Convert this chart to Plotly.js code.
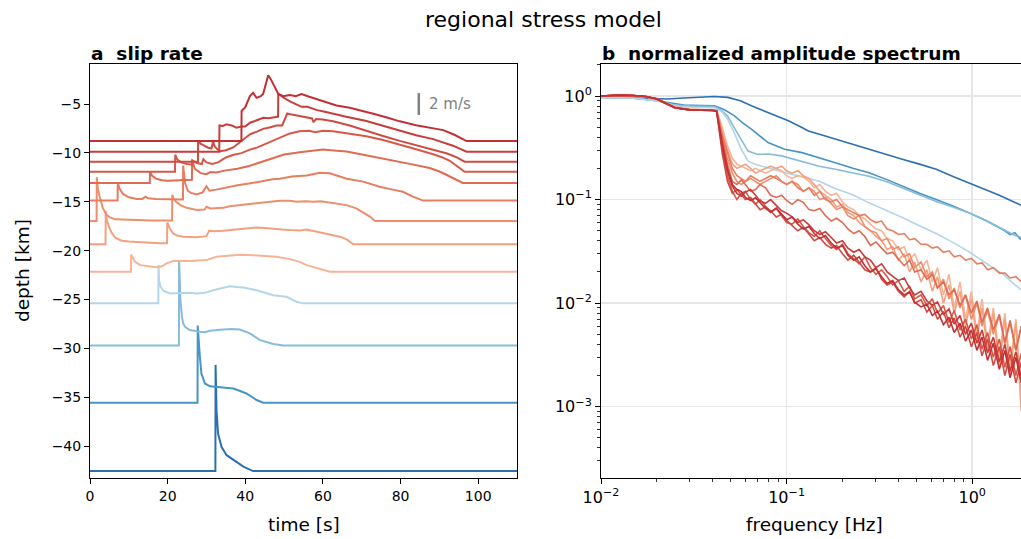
<!DOCTYPE html>
<html><head><meta charset="utf-8">
<script src="https://cdn.plot.ly/plotly-3.0.1.min.js"></script>
<style>html,body{margin:0;padding:0;background:#fff}#chart{width:1021px;height:539px}</style>
</head><body><div id="chart"></div>
<script>
// ---------- data: slip rate (time [s], slip rate [m/s]) per station depth ----------
const depths = [-42.56, -35.57, -29.70, -25.40, -22.16, -19.36, -16.97, -14.88, -13.08, -11.93, -10.90, -9.88, -8.79];

const slipT0 = [0, 32.3, 32.35, 32.45, 32.6, 33.0, 33.9, 35.2, 36.9, 38.3, 39.5, 41.2, 42, 110];
const slipV0 = [0, 0, 9.7, 8.0, 5.5, 3.4, 2.2, 1.45, 1.0, 0.7, 0.4, 0.1, 0, 0];
const slipT1 = [0, 27.7, 27.75, 27.95, 28.3, 28.7, 29.6, 30.9, 32.6, 34.5, 36.9, 38.5, 40.3, 42.9, 44.6, 110];
const slipV1 = [0, 0, 7.06, 5.7, 4.2, 2.67, 1.76, 1.5, 1.45, 1.4, 1.3, 1.1, 0.85, 0.25, 0, 0];
const slipT2 = [0, 22.9, 22.95, 23.3, 23.7, 24.0, 24.5, 25.7, 28.3, 29.5, 30.9, 32.5, 34.3, 36.5, 38.6, 41.2, 43.8, 47.2, 49.8, 110];
const slipV2 = [0, 0, 7.75, 4.1, 2.6, 2.0, 1.7, 1.4, 1.24, 1.2, 1.33, 1.4, 1.45, 1.5, 1.45, 1.1, 0.48, 0.12, 0, 0];
const slipT3 = [0, 17.6, 17.65, 17.8, 18.2, 18.9, 20.6, 23.2, 25.7, 27.5, 29.6, 31.7, 34.3, 36.0, 37.8, 39.5, 42.9, 45, 47.2, 50.6, 53.2, 54.9, 110];
const slipV3 = [0, 0, 3.5, 2.1, 1.5, 1.15, 0.9, 0.95, 0.96, 0.9, 0.96, 1.2, 1.45, 1.57, 1.5, 1.45, 1.2, 0.95, 0.75, 0.6, 0.15, 0, 0];
const slipT4 = [0, 10.55, 10.6, 11.6, 12.9, 15.4, 17.2, 18.5, 19.7, 21.4, 23.2, 25.7, 28, 30, 32.6, 36, 38.5, 41.2, 44.6, 48, 51.5, 54, 55.8, 57.5, 60.1, 61.8, 110];
const slipV4 = [0, 0, 1.58, 0.9, 0.6, 0.45, 0.4, 0.5, 0.76, 0.97, 1.0, 0.97, 1.0, 1.06, 1.36, 1.43, 1.55, 1.52, 1.43, 1.36, 1.15, 0.9, 0.6, 0.45, 0.2, 0, 0];
const slipT5 = [0, 4.0, 4.05, 4.3, 4.7, 5.5, 6.5, 8, 10, 12, 15, 18, 19.85, 19.9, 20.5, 21.4, 22.5, 24.0, 27.5, 30.0, 30.7, 32, 34.3, 38.6, 42.9, 45, 47.2, 49.5, 51.5, 54, 55.8, 58, 60.1, 62.5, 64.4, 66.1, 67.8, 110];
const slipV5 = [0, 0, 3.03, 2.3, 1.8, 1.1, 0.6, 0.35, 0.25, 0.2, 0.15, 0.1, 0.1, 2.0, 1.5, 1.0, 0.8, 0.7, 0.65, 0.75, 1.25, 1.2, 1.25, 1.4, 1.55, 1.5, 1.4, 1.35, 1.3, 1.27, 1.36, 1.2, 1.06, 0.85, 0.7, 0.45, 0, 0];
const slipT6 = [0, 1.7, 1.75, 2.0, 2.5, 3.3, 4.2, 5, 6.5, 9, 12, 16, 21.15, 21.2, 21.6, 22.3, 23.5, 24.9, 27.5, 29.5, 30, 31, 34.3, 36, 38.6, 42.9, 46, 48.9, 51.5, 53.2, 55.5, 57.5, 59.5, 61.8, 64, 66.1, 68.6, 70.5, 72.1, 73.4, 110];
const slipV6 = [0, 0, 4.0, 3.0, 2.2, 1.2, 0.6, 0.35, 0.15, 0.1, 0.08, 0.05, 0.05, 2.4, 2.0, 1.7, 1.4, 1.2, 1.0, 1.05, 1.3, 1.15, 1.2, 1.35, 1.45, 1.6, 1.75, 1.85, 1.85, 1.75, 1.8, 1.75, 1.8, 1.7, 1.55, 1.45, 1.15, 0.75, 0.4, 0, 0];
const slipT7 = [0, 7.1, 7.15, 7.6, 8.5, 10, 12, 13.5, 14.3, 15, 17, 20, 23.95, 24.0, 24.5, 25.2, 26, 27.5, 29, 30, 30.8, 32.5, 35, 38, 41, 44, 47, 48.9, 52, 55.8, 57.5, 59.2, 61.8, 63, 66.1, 70.4, 74.6, 78, 80.6, 83.2, 85.8, 110];
const slipV7 = [0, 0, 1.65, 1.1, 0.6, 0.3, 0.15, 0.15, 0.35, 0.2, 0.15, 0.1, 0.1, 3.2, 1.6, 0.9, 0.7, 0.55, 0.75, 1.3, 0.9, 1.0, 1.2, 1.4, 1.55, 1.75, 1.95, 2.0, 2.2, 2.3, 2.45, 2.55, 2.5, 2.35, 2.0, 1.73, 1.27, 1.0, 0.8, 0.36, 0, 0];
const slipT8 = [0, 15.4, 15.45, 16, 17, 18.5, 20, 22, 24, 26.25, 26.3, 27, 28.5, 30, 31, 32.5, 35, 38, 41, 44, 47, 50, 54, 57, 60, 62, 66.1, 70.4, 74.5, 78.9, 83, 87.5, 90, 91.8, 94, 96, 110];
const slipV8 = [0, 0, 1.05, 0.65, 0.4, 0.25, 0.2, 0.25, 0.3, 0.3, 2.1, 1.3, 0.9, 0.8, 1.0, 0.95, 1.15, 1.3, 1.55, 1.9, 2.2, 2.6, 2.8, 2.95, 3.05, 3.0, 2.87, 2.57, 2.3, 1.96, 1.7, 1.36, 1.05, 0.75, 0.35, 0, 0];
const slipT9 = [0, 21.9, 21.95, 22.5, 23.5, 25, 26.3, 26.35, 27.5, 28.8, 29.2, 30, 31.5, 33, 35, 37, 39, 41, 43, 45, 47, 49, 51.5, 54, 56.5, 58, 60, 62.6, 66, 71.2, 75.5, 79.8, 84, 88.4, 90.5, 92.7, 94.5, 96.5, 110];
const slipV9 = [0, 0, 1.55, 1.1, 0.85, 0.7, 0.65, 1.05, 0.8, 0.7, 1.15, 0.85, 0.7, 0.85, 1.3, 1.55, 1.7, 2.0, 2.2, 2.5, 2.8, 3.1, 3.5, 3.7, 3.75, 3.6, 3.75, 3.7, 3.5, 3.25, 2.9, 2.5, 2.05, 1.6, 1.35, 1.0, 0.5, 0, 0];
const slipT10 = [0, 27.8, 27.85, 28.5, 29.2, 30.3, 31.3, 31.7, 32.1, 32.6, 33.5, 35, 36.9, 39, 41.2, 43, 44.6, 46.5, 48, 49.5, 50.8, 52, 54.9, 57.2, 57.6, 58.2, 60, 62.6, 66.9, 71.2, 75.5, 79.8, 84, 88.4, 92, 94.5, 96.5, 110];
const slipV10 = [0, 0, 1.9, 1.65, 1.5, 1.3, 1.2, 1.85, 1.4, 1.2, 0.95, 1.05, 1.3, 1.9, 2.5, 2.75, 3.0, 3.15, 3.3, 3.3, 4.4, 4.3, 4.1, 3.95, 3.6, 3.9, 3.85, 3.7, 3.3, 2.8, 2.35, 1.9, 1.5, 1.15, 0.75, 0.4, 0, 0];
const slipT11 = [0, 33.3, 33.35, 34.2, 35.2, 36.5, 37.7, 39.0, 40.0, 41.2, 42.5, 43.5, 44.6, 46.0, 47.6, 48.45, 48.5, 49.8, 51.5, 53.2, 54.5, 56, 58.5, 60.5, 62.6, 66, 71.2, 75.5, 79.8, 84, 88.4, 91, 93.5, 97, 110];
const slipV11 = [0, 0, 2.4, 2.35, 2.5, 2.4, 2.2, 2.3, 2.3, 2.65, 2.8, 2.95, 3.1, 3.05, 3.15, 3.2, 5.3, 4.95, 4.6, 4.3, 4.1, 4.1, 3.8, 3.65, 3.5, 3.2, 2.8, 2.35, 1.9, 1.5, 1.15, 0.85, 0.55, 0, 0];
const slipT12 = [0, 39.0, 39.05, 40.0, 41.2, 42.0, 42.9, 44.0, 44.6, 45.3, 45.9, 46.5, 47.2, 48.5, 49.8, 51.5, 53.0, 54.5, 56.5, 58.3, 60.1, 63.5, 66.9, 70, 73, 76.5, 79.8, 84, 88, 91, 94, 97.0, 110];
const slipV12 = [0, 0, 2.75, 3.1, 4.1, 4.4, 3.95, 4.1, 4.3, 5.2, 6.0, 5.7, 5.2, 4.3, 4.1, 4.2, 4.1, 4.3, 4.05, 3.85, 3.7, 3.25, 3.05, 2.8, 2.5, 2.15, 1.8, 1.45, 1.2, 1.0, 0.55, 0.0, 0];

// ---------- data: normalized amplitude spectra ----------
const specF0 = [0.01, 0.015, 0.02, 0.0228, 0.028, 0.035, 0.0408, 0.0482, 0.0564, 0.0646, 0.075, 0.0862, 0.1022, 0.121, 0.131, 0.155, 0.183, 0.23, 0.278, 0.35, 0.42, 0.52, 0.64, 0.8, 1.06, 1.4, 1.89, 2.0];
const specA0 = [0.98, 0.96, 0.94, 0.935, 0.956, 0.975, 0.99, 0.97, 0.9, 0.805, 0.72, 0.644, 0.576, 0.497, 0.46, 0.42, 0.383, 0.34, 0.306, 0.27, 0.245, 0.22, 0.196, 0.165, 0.135, 0.11, 0.086, 0.082];
const specF1 = [0.01, 0.015, 0.02, 0.025, 0.028, 0.035, 0.0408, 0.046, 0.0524, 0.058, 0.0646, 0.0794, 0.0976, 0.121, 0.15, 0.183, 0.23, 0.278, 0.35, 0.42, 0.52, 0.64, 0.8, 0.97, 1.2, 1.5, 1.6, 1.7, 1.8, 1.92, 2.0];
const specA1 = [0.97, 0.95, 0.9, 0.84, 0.818, 0.81, 0.805, 0.74, 0.644, 0.55, 0.478, 0.355, 0.306, 0.284, 0.255, 0.227, 0.2, 0.182, 0.155, 0.135, 0.115, 0.1, 0.086, 0.074, 0.062, 0.05, 0.046, 0.048, 0.042, 0.04, 0.039];
const specF2 = [0.01, 0.015, 0.02, 0.025, 0.03, 0.035, 0.0408, 0.045, 0.048, 0.052, 0.057, 0.062, 0.07, 0.08, 0.094, 0.11, 0.121, 0.15, 0.183, 0.23, 0.278, 0.35, 0.42, 0.52, 0.64, 0.8, 0.97, 1.2, 1.5, 1.7, 1.92, 2.0];
const specA2 = [0.97, 0.95, 0.9, 0.82, 0.8, 0.8, 0.79, 0.72, 0.644, 0.5, 0.382, 0.294, 0.273, 0.275, 0.264, 0.245, 0.235, 0.21, 0.196, 0.18, 0.168, 0.148, 0.13, 0.112, 0.096, 0.084, 0.074, 0.062, 0.05, 0.045, 0.042, 0.041];
const specF3 = [0.01, 0.015, 0.02, 0.025, 0.03, 0.035, 0.041, 0.045, 0.048, 0.052, 0.057, 0.062, 0.07, 0.0794, 0.098, 0.121, 0.15, 0.183, 0.23, 0.278, 0.35, 0.42, 0.52, 0.64, 0.8, 0.97, 1.2, 1.47, 1.7, 1.92, 2.0];
const specA3 = [0.97, 0.95, 0.9, 0.8, 0.78, 0.78, 0.77, 0.7, 0.6, 0.45, 0.306, 0.235, 0.215, 0.203, 0.182, 0.166, 0.15, 0.128, 0.11, 0.093, 0.078, 0.067, 0.056, 0.047, 0.038, 0.031, 0.024, 0.019, 0.015, 0.0125, 0.012];

const freqRed = [0.01, 0.0125, 0.015, 0.0175, 0.02, 0.0225, 0.025, 0.03, 0.035, 0.04, 0.042, 0.045, 0.048, 0.051, 0.054, 0.057, 0.06, 0.064, 0.068, 0.072, 0.077, 0.082, 0.088, 0.094, 0.1, 0.107, 0.115, 0.123, 0.132, 0.141, 0.151, 0.162, 0.174, 0.186, 0.2, 0.214, 0.23, 0.246, 0.264, 0.283, 0.303, 0.325, 0.348, 0.373, 0.4, 0.43, 0.46, 0.49, 0.53, 0.57, 0.61, 0.65, 0.7, 0.75, 0.8, 0.86, 0.92, 0.99, 1.06, 1.13, 1.21, 1.3, 1.4, 1.5, 1.6, 1.72, 1.84, 1.97];
const specA4 = [1.0, 1.01, 1.0, 0.985, 0.94, 0.86, 0.79, 0.75, 0.745, 0.74, 0.73, 0.5, 0.33, 0.25, 0.22, 0.21, 0.2, 0.19, 0.2, 0.19, 0.18, 0.19, 0.2, 0.19, 0.17, 0.16, 0.17, 0.165, 0.15, 0.13, 0.14, 0.12, 0.11, 0.115, 0.095, 0.085, 0.08, 0.07, 0.065, 0.058, 0.052, 0.05, 0.042, 0.04, 0.033, 0.035, 0.026, 0.03, 0.021, 0.026, 0.016, 0.022, 0.012, 0.019, 0.009, 0.016, 0.007, 0.013, 0.005, 0.011, 0.004, 0.009, 0.003, 0.008, 0.0025, 0.007, 0.0012, 0.006];
const specA5 = [1.0, 1.01, 1.0, 0.98, 0.93, 0.85, 0.78, 0.745, 0.74, 0.735, 0.725, 0.45, 0.3, 0.22, 0.2, 0.21, 0.22, 0.2, 0.18, 0.19, 0.2, 0.21, 0.2, 0.21, 0.19, 0.18, 0.19, 0.17, 0.16, 0.14, 0.12, 0.11, 0.1, 0.085, 0.09, 0.075, 0.07, 0.06, 0.055, 0.05, 0.044, 0.04, 0.033, 0.035, 0.026, 0.03, 0.02, 0.025, 0.016, 0.021, 0.013, 0.018, 0.01, 0.015, 0.008, 0.013, 0.006, 0.011, 0.0045, 0.009, 0.0035, 0.008, 0.0025, 0.007, 0.002, 0.0065, 0.0009, 0.005];
const specA6 = [1.0, 1.015, 1.005, 0.98, 0.93, 0.84, 0.77, 0.74, 0.74, 0.735, 0.72, 0.4, 0.25, 0.18, 0.15, 0.14, 0.15, 0.16, 0.15, 0.14, 0.15, 0.16, 0.17, 0.15, 0.14, 0.15, 0.14, 0.12, 0.13, 0.12, 0.1, 0.105, 0.09, 0.08, 0.085, 0.07, 0.065, 0.07, 0.055, 0.05, 0.048, 0.04, 0.042, 0.033, 0.035, 0.028, 0.03, 0.022, 0.025, 0.018, 0.02, 0.014, 0.017, 0.011, 0.014, 0.009, 0.012, 0.007, 0.01, 0.006, 0.0085, 0.005, 0.0075, 0.004, 0.0065, 0.0035, 0.006, 0.003];
const specA7 = [1.0, 1.01, 1.0, 0.98, 0.93, 0.84, 0.77, 0.74, 0.735, 0.73, 0.72, 0.42, 0.28, 0.2, 0.17, 0.16, 0.15, 0.17, 0.16, 0.15, 0.16, 0.17, 0.16, 0.15, 0.14, 0.15, 0.13, 0.12, 0.13, 0.11, 0.12, 0.1, 0.095, 0.1, 0.085, 0.08, 0.075, 0.07, 0.072, 0.064, 0.06, 0.062, 0.052, 0.05, 0.046, 0.047, 0.041, 0.042, 0.037, 0.037, 0.034, 0.035, 0.031, 0.032, 0.028, 0.029, 0.026, 0.027, 0.024, 0.0245, 0.021, 0.022, 0.0195, 0.0195, 0.0175, 0.018, 0.016, 0.016];
const specA8 = [1.0, 1.02, 1.01, 0.985, 0.93, 0.84, 0.77, 0.735, 0.735, 0.73, 0.715, 0.38, 0.22, 0.15, 0.14, 0.155, 0.14, 0.12, 0.125, 0.14, 0.13, 0.11, 0.105, 0.11, 0.098, 0.09, 0.1, 0.094, 0.08, 0.078, 0.082, 0.07, 0.062, 0.066, 0.06, 0.052, 0.047, 0.05, 0.044, 0.036, 0.039, 0.034, 0.03, 0.031, 0.027, 0.023, 0.026, 0.02, 0.021, 0.017, 0.019, 0.014, 0.016, 0.012, 0.0135, 0.0095, 0.012, 0.008, 0.0105, 0.0065, 0.009, 0.0055, 0.0078, 0.0042, 0.0068, 0.0035, 0.006, 0.003];
const specA9 = [1.0, 1.02, 1.01, 0.99, 0.94, 0.85, 0.77, 0.735, 0.73, 0.73, 0.71, 0.33, 0.17, 0.12, 0.1, 0.115, 0.12, 0.1, 0.09, 0.1, 0.085, 0.075, 0.082, 0.07, 0.06, 0.058, 0.065, 0.055, 0.048, 0.044, 0.05, 0.042, 0.036, 0.033, 0.037, 0.03, 0.027, 0.024, 0.028, 0.022, 0.019, 0.021, 0.018, 0.015, 0.0165, 0.013, 0.0145, 0.011, 0.012, 0.0095, 0.011, 0.008, 0.0095, 0.0065, 0.0085, 0.0055, 0.007, 0.0045, 0.0062, 0.0036, 0.0052, 0.003, 0.0045, 0.0024, 0.0038, 0.002, 0.0033, 0.0016];
const specA10 = [1.0, 1.02, 1.01, 0.99, 0.94, 0.85, 0.775, 0.735, 0.73, 0.725, 0.71, 0.28, 0.15, 0.115, 0.125, 0.11, 0.1, 0.105, 0.092, 0.08, 0.085, 0.078, 0.068, 0.072, 0.063, 0.056, 0.05, 0.054, 0.046, 0.04, 0.043, 0.037, 0.034, 0.036, 0.03, 0.026, 0.029, 0.025, 0.021, 0.02, 0.022, 0.017, 0.015, 0.016, 0.013, 0.0115, 0.013, 0.01, 0.0108, 0.0082, 0.0095, 0.007, 0.0083, 0.0058, 0.0072, 0.0047, 0.006, 0.0038, 0.0052, 0.0031, 0.0045, 0.0025, 0.0038, 0.002, 0.0032, 0.0017, 0.0027, 0.0014];
const specA11 = [1.0, 1.02, 1.01, 0.99, 0.935, 0.845, 0.77, 0.735, 0.73, 0.725, 0.71, 0.31, 0.19, 0.135, 0.115, 0.108, 0.118, 0.125, 0.11, 0.097, 0.092, 0.1, 0.088, 0.078, 0.074, 0.068, 0.06, 0.064, 0.057, 0.05, 0.046, 0.049, 0.043, 0.038, 0.04, 0.034, 0.031, 0.033, 0.028, 0.026, 0.022, 0.024, 0.02, 0.018, 0.0165, 0.0175, 0.014, 0.012, 0.013, 0.0105, 0.0095, 0.0103, 0.0078, 0.0088, 0.0063, 0.0076, 0.005, 0.0064, 0.0041, 0.0055, 0.0033, 0.0047, 0.0027, 0.004, 0.0022, 0.0034, 0.0019, 0.0028];
const specA12 = [1.0, 1.02, 1.01, 0.99, 0.935, 0.845, 0.77, 0.735, 0.73, 0.725, 0.71, 0.35, 0.2, 0.14, 0.125, 0.12, 0.105, 0.098, 0.104, 0.093, 0.082, 0.076, 0.083, 0.072, 0.064, 0.068, 0.058, 0.052, 0.055, 0.047, 0.042, 0.045, 0.038, 0.034, 0.036, 0.029, 0.026, 0.028, 0.023, 0.02, 0.0215, 0.018, 0.0155, 0.0165, 0.0135, 0.012, 0.0128, 0.0102, 0.0092, 0.0098, 0.0076, 0.0084, 0.0062, 0.0073, 0.0052, 0.0064, 0.0043, 0.0055, 0.0035, 0.0047, 0.0028, 0.0041, 0.0023, 0.0035, 0.0019, 0.003, 0.0017, 0.0024];

const xTickVals = [0.01, 0.1, 1];
const xTickText = ['10<sup>−2</sup>', '10<sup>−1</sup>', '10<sup>0</sup>'];
const yTickVals = [0.001, 0.01, 0.1, 1];
const yTickText = ['10<sup>−3</sup>', '10<sup>−2</sup>', '10<sup>−1</sup>', '10<sup>0</sup>'];

// ---------- style ----------
const colors = ['#2c6fb2', '#4794c6', '#86bbda', '#b4d6e9', '#f7b395', '#f4a07f', '#ee8e6d', '#e87d60', '#e06a52', '#d85848', '#cf4a40', '#c83c3a', '#c23034'];
const K = 1.12; // km of depth offset per m/s of slip rate

const slipT = [slipT0, slipT1, slipT2, slipT3, slipT4, slipT5, slipT6, slipT7, slipT8, slipT9, slipT10, slipT11, slipT12];
const slipV = [slipV0, slipV1, slipV2, slipV3, slipV4, slipV5, slipV6, slipV7, slipV8, slipV9, slipV10, slipV11, slipV12];
const specF = [specF0, specF1, specF2, specF3, freqRed, freqRed, freqRed, freqRed, freqRed, freqRed, freqRed, freqRed, freqRed];
const specA = [specA0, specA1, specA2, specA3, specA4, specA5, specA6, specA7, specA8, specA9, specA10, specA11, specA12];

const traces = [];
for (let i = 0; i < depths.length; i++) {
  traces.push({
    type: 'scatter', mode: 'lines', xaxis: 'x', yaxis: 'y', showlegend: false, hoverinfo: 'skip',
    x: slipT[i], y: slipV[i].map(v => depths[i] + K * v),
    line: {color: colors[i], width: 2}
  });
}
for (let i = 0; i < depths.length; i++) {
  traces.push({
    type: 'scatter', mode: 'lines', xaxis: 'x2', yaxis: 'y2', showlegend: false, hoverinfo: 'skip',
    x: specF[i], y: specA[i],
    line: {color: colors[i], width: 1.6}
  });
}

const W = 1021, H = 539;
const px = v => v / W, py = v => 1 - v / H;
const FONT = 'DejaVu Sans';
const tickFont = {family: FONT, size: 14, color: '#000'};
const logTickFont = {family: FONT, size: 16, color: '#000'};

function minorVals() {
  const out = [];
  for (let e = -4; e <= 1; e++) for (let m = 2; m <= 9; m++) out.push(m * Math.pow(10, e));
  return out;
}

const layout = {
  width: W, height: H, margin: {l: 0, r: 0, t: 0, b: 0},
  paper_bgcolor: '#fff', plot_bgcolor: '#fff',
  font: {family: FONT, color: '#000'},
  showlegend: false,
  xaxis: {
    domain: [px(90), px(517)], range: [0, 110], tickvals: [0, 20, 40, 60, 80, 100],
    showline: true, mirror: true, linecolor: '#000', linewidth: 1,
    ticks: 'outside', ticklen: 5, tickwidth: 1, tickcolor: '#000',
    showgrid: false, zeroline: false, tickfont: tickFont, anchor: 'y'
  },
  yaxis: {
    domain: [py(478), py(64)], range: [-43.27, -0.906], tickvals: [-40, -35, -30, -25, -20, -15, -10, -5],
    showline: true, mirror: true, linecolor: '#000', linewidth: 1,
    ticks: 'outside', ticklen: 5, tickwidth: 1, tickcolor: '#000',
    showgrid: false, zeroline: false, tickfont: tickFont, anchor: 'x'
  },
  xaxis2: {
    type: 'log', domain: [px(601), 1], range: [-2, 0.263],
    tickvals: xTickVals, ticktext: xTickText,
    showline: true, mirror: true, linecolor: '#000', linewidth: 1,
    ticks: 'outside', ticklen: 5, tickwidth: 1, tickcolor: '#000',
    showgrid: true, gridcolor: '#e6e6e6', gridwidth: 1.5, zeroline: false, tickfont: logTickFont, anchor: 'y2',
    minor: {tickvals: minorVals(), ticks: 'outside', ticklen: 3, tickwidth: 0.8, tickcolor: '#000', showgrid: false}
  },
  yaxis2: {
    type: 'log', domain: [py(478), py(64)], range: [-3.688, 0.309],
    tickvals: yTickVals, ticktext: yTickText,
    showline: true, mirror: true, linecolor: '#000', linewidth: 1,
    ticks: 'outside', ticklen: 5, tickwidth: 1, tickcolor: '#000',
    showgrid: true, gridcolor: '#e6e6e6', gridwidth: 1.5, zeroline: false, tickfont: logTickFont, anchor: 'x2',
    minor: {tickvals: minorVals(), ticks: 'outside', ticklen: 3, tickwidth: 0.8, tickcolor: '#000', showgrid: false}
  },
  shapes: [
    {type: 'line', xref: 'x', yref: 'y', x0: 84.7, x1: 84.7, y0: -5 - K, y1: -5 + K,
     line: {color: '#808080', width: 2.5}}
  ],
  annotations: [
    {text: 'regional stress model', xref: 'paper', yref: 'paper', x: px(543), y: py(20),
     xanchor: 'center', yanchor: 'middle', showarrow: false, font: {family: FONT, size: 22, color: '#000'}},
    {text: '<b>a\u00a0 slip rate</b>', xref: 'paper', yref: 'paper', x: px(89), y: py(53),
     xanchor: 'left', yanchor: 'middle', showarrow: false, font: {family: FONT, size: 18.5, color: '#000'}},
    {text: '<b>b\u00a0 normalized amplitude spectrum</b>', xref: 'paper', yref: 'paper', x: px(600), y: py(53),
     xanchor: 'left', yanchor: 'middle', showarrow: false, font: {family: FONT, size: 18.5, color: '#000'}},
    {text: 'time [s]', xref: 'paper', yref: 'paper', x: px(303.5), y: py(524),
     xanchor: 'center', yanchor: 'middle', showarrow: false, font: {family: FONT, size: 18.5, color: '#000'}},
    {text: 'frequency [Hz]', xref: 'paper', yref: 'paper', x: px(814.5), y: py(524),
     xanchor: 'center', yanchor: 'middle', showarrow: false, font: {family: FONT, size: 18.5, color: '#000'}},
    {text: 'depth [km]', xref: 'paper', yref: 'paper', x: px(22), y: py(271), textangle: -90,
     xanchor: 'center', yanchor: 'middle', showarrow: false, font: {family: FONT, size: 18.5, color: '#000'}},
    {text: '2 m/s', xref: 'x', yref: 'y', x: 86.7, y: -5,
     xanchor: 'left', yanchor: 'middle', showarrow: false, font: {family: FONT, size: 15, color: '#808080'}}
  ]
};

Plotly.newPlot('chart', traces, layout, {staticPlot: true, displayModeBar: false});
</script>
</body></html>
